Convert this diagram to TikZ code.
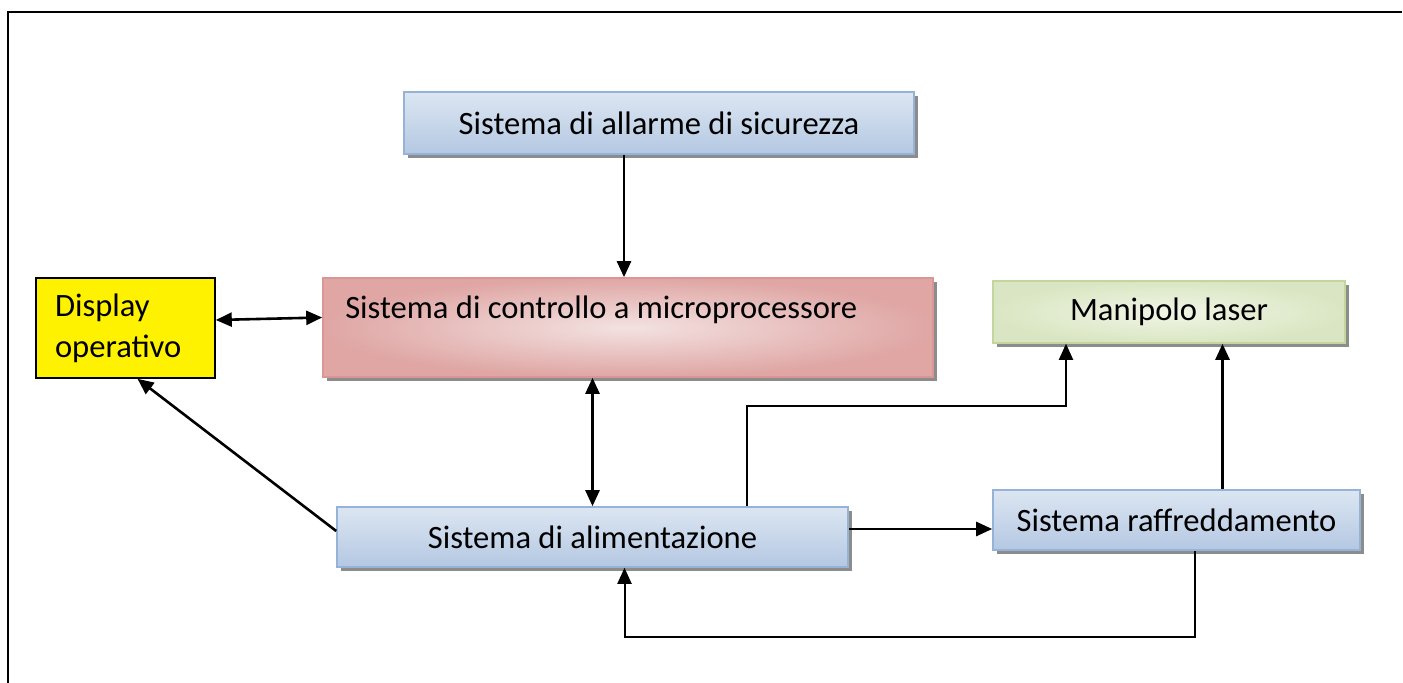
\documentclass[tikz,border=0pt]{standalone}
\usepackage{fontspec}
\setmainfont{Carlito}
\usetikzlibrary{arrows.meta,shadows}
\definecolor{bluetop}{HTML}{DCE6F2}
\definecolor{bluebot}{HTML}{B4C8E2}
\definecolor{blueline}{HTML}{95B3D7}
\definecolor{pinkin}{HTML}{F3E2E1}
\definecolor{pinkout}{HTML}{DFA6A4}
\definecolor{pinkline}{HTML}{D99694}
\definecolor{greenin}{HTML}{F0F5E6}
\definecolor{greenout}{HTML}{DAE6C3}
\definecolor{greenline}{HTML}{C3D69B}
\tikzset{
  box/.style={draw, line width=0.8pt, inner sep=0pt, font=\fontsize{16.3}{19.6}\selectfont,
    drop shadow={shadow xshift=2pt, shadow yshift=-2pt, fill=black!45, opacity=1}},
  bluebox/.style={box, draw=blueline, top color=bluetop, bottom color=bluebot},
  pinkbox/.style={box, draw=pinkline, inner color=pinkin, outer color=pinkout},
  greenbox/.style={box, draw=greenline, inner color=greenin, outer color=greenout},
  dispbox/.style={draw, line width=0.8pt, fill=yellow, align=left, text width=70.5pt,
    inner xsep=9.5pt, minimum height=50pt, font=\fontsize{16.3}{20.5}\selectfont},
  arr/.style={line width=1.3pt, -{Triangle[length=8pt,width=7pt]}},
  dblarr/.style={line width=1.3pt, {Triangle[length=8pt,width=7pt]}-{Triangle[length=8pt,width=7pt]}},
  thinarr/.style={line width=1pt, -{Triangle[length=8pt,width=7pt]}}
}
\begin{document}
\begin{tikzpicture}[x=0.5pt,y=-0.5pt]
\useasboundingbox (0,0) rectangle (1403,683);
\draw[line width=1.2pt] (8,683) -- (8,12) -- (1402,12);
\node[bluebox, minimum width=255pt, minimum height=31pt] (allarme) at (659,123) {Sistema di allarme di sicurezza};
\node[dispbox] (disp) at (125.5,328) {Display\\operativo};
\node[pinkbox, minimum width=305pt, minimum height=49.5pt,
  label={[anchor=west, xshift=8pt, yshift=-16.5pt, font=\fontsize{16.3}{19.6}\selectfont]north west:Sistema di controllo a microprocessore}] (ctrl) at (628,327.5) {};
\node[greenbox, minimum width=176pt, minimum height=31pt] (manip) at (1169,312) {Manipolo laser};
\node[bluebox, minimum width=255.5pt, minimum height=30pt] (alim) at (592.5,537) {Sistema di alimentazione};
\node[bluebox, minimum width=183.5pt, minimum height=30pt] (raff) at (1176.5,520) {Sistema raffreddamento};
\draw[arr] ([xshift=-2pt]allarme.south -| ctrl.north) -- ([xshift=-2pt]ctrl.north);
\draw[dblarr] ([yshift=4pt]disp.east) -- ([yshift=5pt]ctrl.west);
\draw[dblarr] (ctrl.south -| alim.north) -- (alim.north);
\draw[arr] ([yshift=3pt]alim.west) -- ([xshift=6pt]disp.south);
\draw[thinarr] ([xshift=77pt]alim.north) -- ++(0,-100) -| ([xshift=-51.5pt]manip.south);
\draw[arr] ([yshift=4pt]alim.east) -- ([yshift=4pt]alim.east -| raff.west);
\draw[arr] ([xshift=23pt]raff.north) -- ([xshift=23pt]raff.north |- manip.south);
\draw[thinarr] ([xshift=9pt]raff.south) -- ++(0,86) -| ([xshift=16pt]alim.south);
\end{tikzpicture}
\end{document}
